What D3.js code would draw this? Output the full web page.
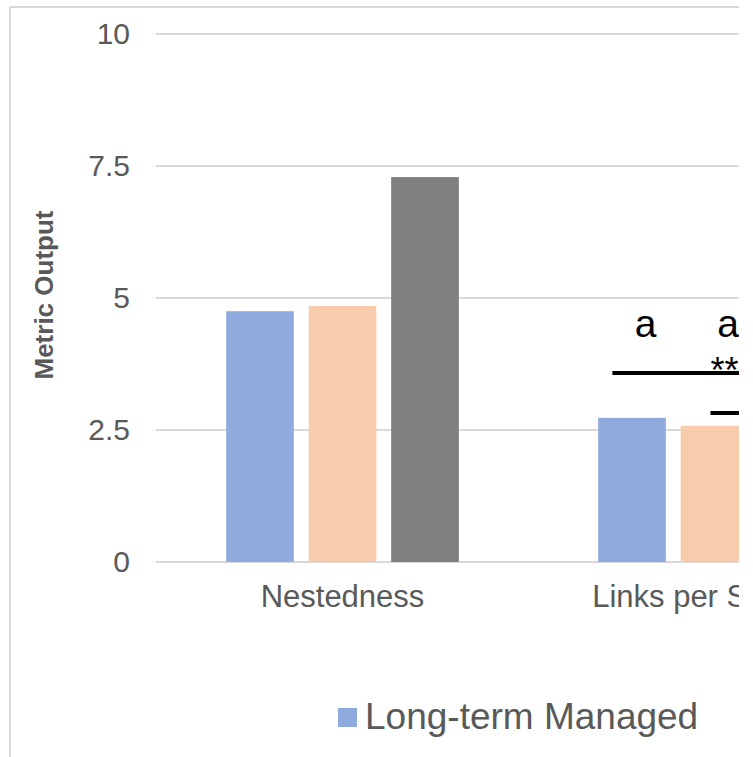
<!DOCTYPE html>
<html>
<head>
<meta charset="utf-8">
<script src="https://cdn.jsdelivr.net/npm/d3@7"></script>
<style>
  body { margin: 0; background: #fff; }
  text { font-family: "Liberation Sans", Arial, sans-serif; }
</style>
</head>
<body>
<svg id="chart"></svg>
<script>
// data
const categories = ['Nestedness', 'Links per Species'];
const seriesNames = ['Long-term Managed', 'Series 2', 'Series 3'];
const seriesColors = ['#8faadc', '#f8cbad', '#7f7f7f'];
const longTermValues = [4.75, 2.73];
const series2Values = [4.85, 2.58];
const series3Values = [7.29, null]; // second one is outside the visible area
const tickValues = [0, 2.5, 5, 7.5, 10];
const tickLabels = ['0', '2.5', '5', '7.5', '10'];
const legendItems = ['Long-term Managed'];
// letter labels above bars: [category, series index, value, text]
const letterLabels = [
  ['Links per Species', 0, 4.26, 'a'],
  ['Links per Species', 1, 4.26, 'a'],
];
// significance lines: [category, series index where it starts, fraction into bar, value]
const sigLines = [
  ['Links per Species', 0, 0.21, 3.58],
  ['Links per Species', 1, 0.44, 2.82],
];
const sigStars = [['Links per Species', 1, 0.44, 3.39, '**']];

const width = 739;
const height = 757;

const svg = d3.select('#chart')
  .attr('width', width)
  .attr('height', height);

// outer chart border (only the top and left edges are in view)
svg.append('line')
  .attr('x1', 10).attr('x2', width).attr('y1', 7).attr('y2', 7)
  .attr('stroke', '#d9d9d9').attr('stroke-width', 2);
svg.append('line')
  .attr('x1', 10).attr('x2', 10).attr('y1', 7).attr('y2', height)
  .attr('stroke', '#d9d9d9').attr('stroke-width', 2);

const yScale = d3.scaleLinear().domain([0, 10]).range([562, 34]);

const xScale = d3.scaleBand()
  .domain(categories)
  .range([156.5, 156.5 + 372 * categories.length])
  .paddingInner(0)
  .paddingOuter(0);

const subScale = d3.scaleBand()
  .domain(d3.range(seriesNames.length))
  .range([0, xScale.bandwidth()])
  .paddingInner(0.18)
  .paddingOuter(0.8445);

// gridlines
svg.append('g')
  .selectAll('line')
  .data(tickValues)
  .join('line')
  .attr('x1', 156)
  .attr('x2', width)
  .attr('y1', (d) => yScale(d))
  .attr('y2', (d) => yScale(d))
  .attr('stroke', '#d9d9d9')
  .attr('stroke-width', 2);

// tick labels
svg.append('g')
  .selectAll('text')
  .data(tickValues)
  .join('text')
  .attr('x', 130)
  .attr('y', (d) => yScale(d) + 10)
  .attr('text-anchor', 'end')
  .attr('font-size', 30)
  .attr('fill', '#595959')
  .text((d, i) => tickLabels[i]);

// bars
const allValues = [longTermValues, series2Values, series3Values];
const barData = [];
categories.forEach((c, ci) => {
  allValues.forEach((vals, si) => {
    if (vals[ci] != null) barData.push({ category: c, series: si, value: vals[ci] });
  });
});

svg.append('g')
  .selectAll('rect')
  .data(barData)
  .join('rect')
  .attr('x', (d) => xScale(d.category) + subScale(d.series))
  .attr('y', (d) => yScale(d.value))
  .attr('width', subScale.bandwidth())
  .attr('height', (d) => yScale(0) - yScale(d.value))
  .attr('fill', (d) => seriesColors[d.series]);

// category labels
svg.append('g')
  .selectAll('text')
  .data(categories)
  .join('text')
  .attr('x', (d) => xScale(d) + xScale.bandwidth() / 2)
  .attr('y', 607)
  .attr('text-anchor', 'middle')
  .attr('font-size', 31)
  .attr('fill', '#595959')
  .text((d) => d);

// y axis title
svg.append('text')
  .attr('transform', 'translate(53, 295) rotate(-90)')
  .attr('text-anchor', 'middle')
  .attr('font-size', 26)
  .attr('font-weight', 'bold')
  .attr('fill', '#595959')
  .text('Metric Output');

// annotations
const barX = (c, s, f) => xScale(c) + subScale(s) + f * subScale.bandwidth();

svg.append('g')
  .selectAll('text')
  .data(letterLabels)
  .join('text')
  .attr('x', (d) => barX(d[0], d[1], 0.7))
  .attr('y', (d) => yScale(d[2]))
  .attr('text-anchor', 'middle')
  .attr('font-size', 39)
  .attr('fill', '#000')
  .text((d) => d[3]);

svg.append('g')
  .selectAll('line')
  .data(sigLines)
  .join('line')
  .attr('x1', (d) => barX(d[0], d[1], d[2]))
  .attr('x2', width + 10)
  .attr('y1', (d) => yScale(d[3]))
  .attr('y2', (d) => yScale(d[3]))
  .attr('stroke', '#000')
  .attr('stroke-width', 4);

svg.append('g')
  .selectAll('text')
  .data(sigStars)
  .join('text')
  .attr('x', (d) => barX(d[0], d[1], d[2]))
  .attr('y', (d) => yScale(d[3]))
  .attr('font-size', 36)
  .attr('fill', '#000')
  .text((d) => d[4]);

// legend
const legend = svg.append('g')
  .selectAll('g')
  .data(legendItems)
  .join('g')
  .attr('transform', 'translate(338, 708)');
legend.append('rect')
  .attr('width', 19)
  .attr('height', 19)
  .attr('fill', (d, i) => seriesColors[i]);
legend.append('text')
  .attr('x', 27)
  .attr('y', 21)
  .attr('font-size', 37)
  .attr('fill', '#595959')
  .text((d) => d);
</script>
</body>
</html>
